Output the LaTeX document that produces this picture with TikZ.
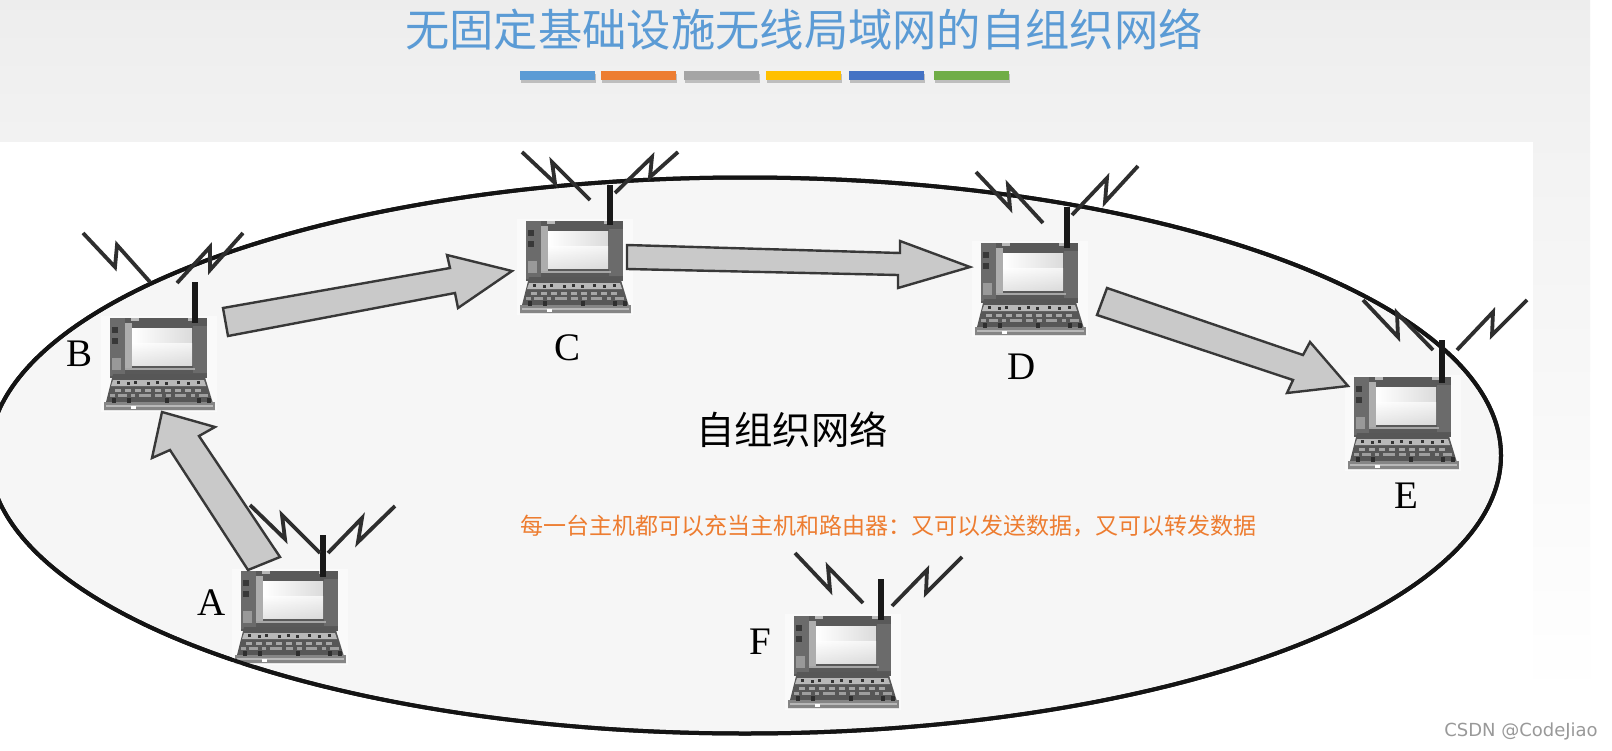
\documentclass[tikz,border=0pt]{standalone}
\usepackage{fontspec}
\setmainfont{Liberation Serif}
\newfontfamily\cjk{Noto Sans CJK SC}
\newfontfamily\wm{DejaVu Sans}
\usetikzlibrary{shadows}
\definecolor{titleblue}{HTML}{5B9BD5}
\definecolor{accorange}{HTML}{ED7D31}
\definecolor{accgray}{HTML}{A5A5A5}
\definecolor{accyellow}{HTML}{FFC000}
\definecolor{accblue}{HTML}{4472C4}
\definecolor{accgreen}{HTML}{70AD47}
\tikzset{
  flowarrow/.style={draw=black!78,line width=1.2pt,fill=black!21,line join=miter},
  zig/.style={draw=black!82,line width=1.9pt,line join=miter},
  mast/.style={draw=black!90,line width=3pt},
  letter/.style={font=\fontsize{19.5}{20}\selectfont,text=black,inner sep=0pt},
  accent/.style={minimum width=37.5pt,minimum height=4.6pt,inner sep=0pt,draw=none,
     general shadow={shadow xshift=0.5pt,shadow yshift=-1.6pt,opacity=.3,fill=black!70}},
  laptop/.pic={
    \fill[white!98!black] (-2,-2) rectangle (114,94);
    % lid
    \fill[black!65] (6.5,0) rectangle (104,60);
    \fill[black!58] (6.5,0) rectangle (22,58);
    \fill[black!78] (9,9) rectangle (15,15);
    \fill[black!78] (9,20) rectangle (15,26);
    \fill[black!40] (9,40) rectangle (18,52);
    \fill[black!32] (22,5) rectangle (29,52);
    \fill[black!58] (90,8) rectangle (104,55);
    \fill[black!28] (28,0) rectangle (36,3);
    \fill[black!28] (85,0) rectangle (92,3);
    % screen
    \shade[left color=white,right color=black!14] (29,10) rectangle (89,47);
    \shade[top color=white,bottom color=black!14,opacity=.7] (29,25) rectangle (89,47);
    \fill[black!35] (22,50) rectangle (92,52);
    % keyboard
    \fill[black!66] (10,56) -- (101,56) -- (112,92) -- (1,92) -- cycle;
    \fill[black!28] (10,62) -- (101,62) -- (103,68) -- (8,68) -- cycle;
    \foreach \kx/\ky in {14/63,24/64,31/63,44/64,53/63,62/64,74/63,84/64,94/63}{\fill[black!80] (\kx,\ky) rectangle +(2.5,3);}
    \foreach \kx in {12,22,...,92}{\fill[black!35] (\kx,71) rectangle +(6,2.5);}
    \foreach \kx/\kw in {7/5,15/9,28/4,36/12,52/7,63/5,72/11,88/4,96/9}{\fill[black!38] (\kx,76) rectangle +(\kw,3);}
    \fill[black!48] (1,84) rectangle (112,92);
    \fill[black!28] (3,86.5) rectangle (110,89);
    \foreach \kx in {9,24,62,94,104}{\fill[black!82] (\kx,80) rectangle +(4,5);}
    \fill[white] (28,88) rectangle (33,91);
  }
}
\begin{document}
\begin{tikzpicture}[x=0.5pt,y=-0.5pt]
\useasboundingbox (0,0) rectangle (1612,750);
\fill[white] (0,0) rectangle (1612,750);
% slide background
\shade[top color=black!7,bottom color=black!5] (0,0) rectangle (1590,142);
\shade[top color=black!5,bottom color=white] (1533,142) rectangle (1590,700);
\fill[white] (0,142) rectangle (1533,742);
% ellipse
\begin{scope}
\clip (0,142) rectangle (1533,750);
\node[draw=none,fill=none,inner sep=0pt] (netcentre) at (745,455.5) {};
\filldraw[draw=black!92,line width=2pt,fill=black!3.5] (netcentre) ellipse [x radius=756,y radius=278];
\end{scope}
% title
\node[font=\cjk\fontsize{22.15}{24}\selectfont,text=titleblue,inner sep=0pt] (title) at (804,29) {无固定基础设施无线局域网的自组织网络};
% accent bars
\node[accent,fill=titleblue] (bar1) at (557,75.5) {};
\node[accent,fill=accorange] (bar2) at (638,75.5) {};
\node[accent,fill=accgray] (bar3) at (721,75.5) {};
\node[accent,fill=accyellow] (bar4) at (803,75.5) {};
\node[accent,fill=accblue] (bar5) at (886,75.5) {};
\node[accent,fill=accgreen] (bar6) at (971,75.5) {};
% laptops
\pic at (234,571) {laptop};
\pic at (103,318) {laptop};
\pic at (519,221) {laptop};
\pic at (974,243) {laptop};
\pic at (1347,377) {laptop};
\pic at (787,616) {laptop};
% re-stroke the ellipse line where a laptop backing covers it
\begin{scope}
\clip (0,142) rectangle (1533,750);
\draw[draw=black!92,line width=2pt] (netcentre) ellipse [x radius=756,y radius=278];
\end{scope}
% masts
\draw[mast] (323,535) -- (323,577);
\draw[mast] (195,282) -- (195,323);
\draw[mast] (610,185) -- (610,225);
\draw[mast] (1067,207) -- (1067,248);
\draw[mast] (1442,340) -- (1442,383);
\draw[mast] (881,579) -- (881,620);
% zigzags
\draw[zig] (250,505) -- (285,539) -- (282,515) -- (320,553);
\draw[zig] (328,553) -- (362,518) -- (358,542) -- (395,506);
\draw[zig] (83,233) -- (115,267) -- (117,245) -- (150,282);
\draw[zig] (177,283) -- (210,247) -- (210,270) -- (243,233);
\draw[zig] (522,152) -- (555,183) -- (552,162) -- (590,200);
\draw[zig] (615,193) -- (652,157) -- (650,177) -- (678,152);
\draw[zig] (976,172) -- (1010,208) -- (1008,185) -- (1043,223);
\draw[zig] (1072,215) -- (1107,178) -- (1105,202) -- (1138,166);
\draw[zig] (1363,300) -- (1398,337) -- (1397,313) -- (1433,350);
\draw[zig] (1457,350) -- (1493,312) -- (1492,335) -- (1527,300);
\draw[zig] (795,553) -- (830,590) -- (828,567) -- (863,603);
\draw[zig] (892,606) -- (927,570) -- (926,593) -- (962,557);
% flow arrows
\draw[flowarrow] (280,557) -- (248,570) -- (170,450) -- (152,458) -- (162,412) -- (215,427) -- (199,436) -- cycle;
\draw[flowarrow] (223,308) -- (450,268) -- (447,255) -- (512,271) -- (458,308) -- (455,293) -- (228,336) -- cycle;
\draw[flowarrow] (627,245) -- (900,253) -- (900,241) -- (970,267) -- (898,288) -- (898,275) -- (627,269) -- cycle;
\draw[flowarrow] (1107,288) -- (1303,355) -- (1310,342) -- (1348,386) -- (1287,393) -- (1293,380) -- (1097,315) -- cycle;
% labels
\node[letter] (la) at (212,603) {A};
\node[letter] (lb) at (80,354) {B};
\node[letter] (lc) at (567,348) {C};
\node[letter] (ld) at (1022,367) {D};
\node[letter] (le) at (1406,496) {E};
\node[letter] (lf) at (760,642) {F};
\node[font=\cjk\fontsize{19.2}{20}\selectfont,text=black,inner sep=0pt] (net) at (792,430) {自组织网络};
\node[font=\cjk\fontsize{11.5}{12}\selectfont,text=accorange,inner sep=0pt] (note) at (888,526) {每一台主机都可以充当主机和路由器：又可以发送数据，又可以转发数据};
\node[font=\wm\fontsize{9}{10}\selectfont,text=black!40,inner sep=0pt] (mark) at (1521,731) {CSDN @CodeJiao};
\end{tikzpicture}
\end{document}
